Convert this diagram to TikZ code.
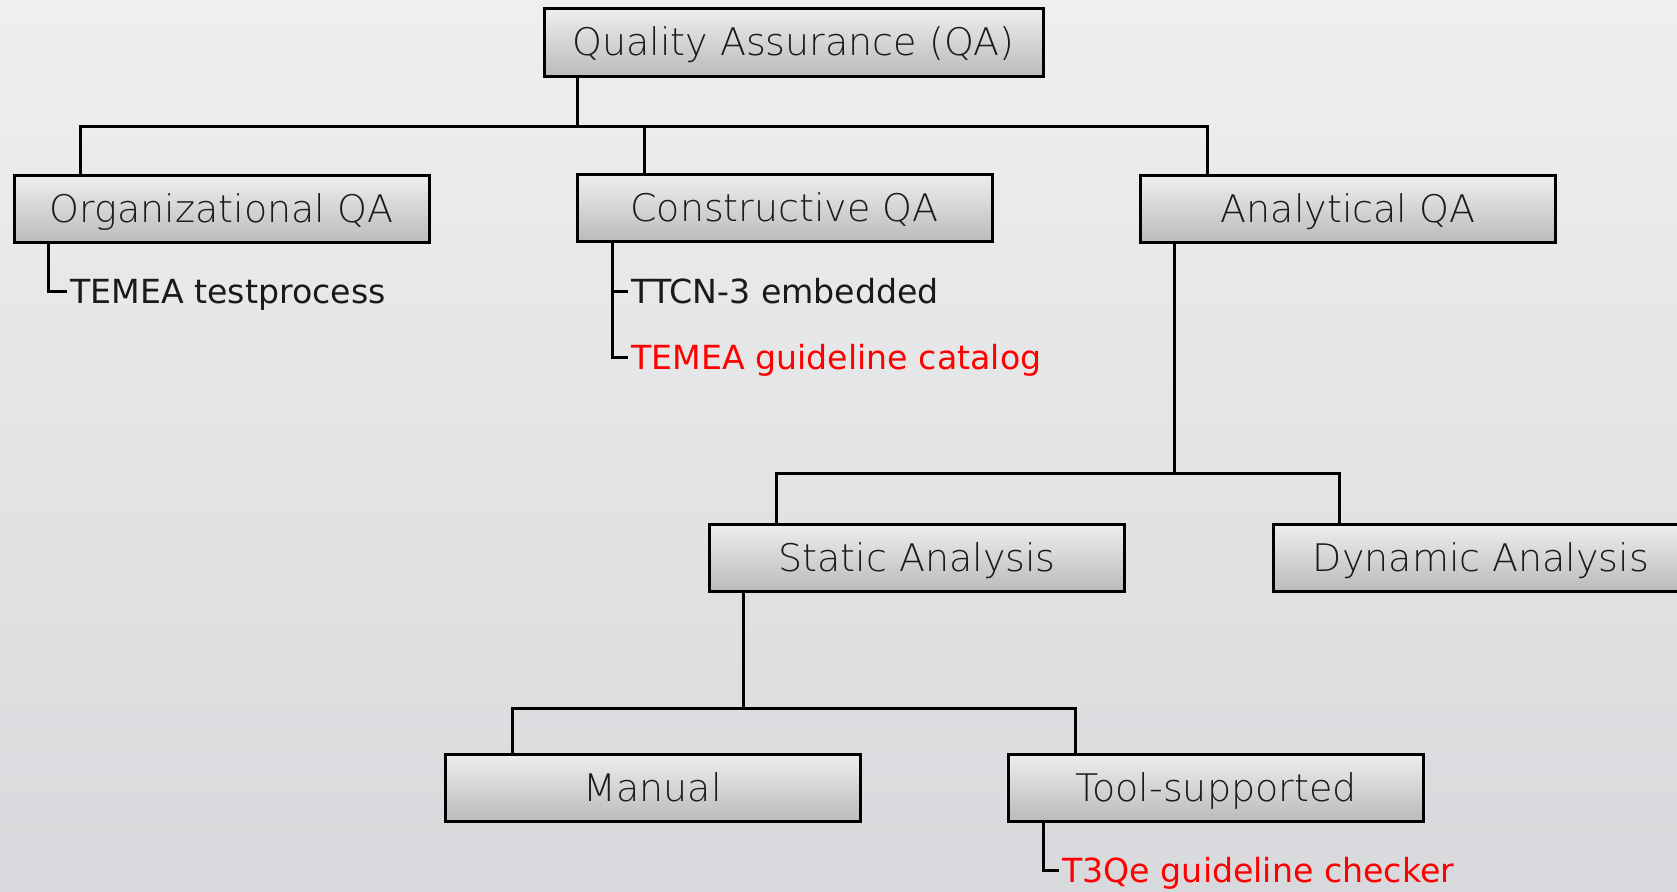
\documentclass[tikz,border=0pt]{standalone}
\usepackage{fontspec}
\setmainfont{DejaVu Sans}
\newfontfamily\thinfont{DejaVu Sans ExtraLight}
\definecolor{bgtop}{HTML}{EFEFEF}
\definecolor{bgbot}{HTML}{D8D9DC}
\definecolor{boxtop}{HTML}{EEEEEE}
\definecolor{boxbot}{HTML}{BBBBBB}
\definecolor{txt}{HTML}{1A1A1A}
\definecolor{redtxt}{HTML}{FF0000}
\tikzset{
  box/.style={draw=black, line width=1.5pt, top color=boxtop, bottom color=boxbot,
    minimum width=207.5pt, minimum height=33.5pt, inner sep=0pt,
    text height=13.8pt, text depth=0pt,
    font=\thinfont\fontsize{19}{22}\selectfont, text=txt},
  lab/.style={anchor=west, inner sep=0pt, text height=12pt, text depth=0pt,
    font=\fontsize{16.6}{19}\selectfont, text=txt},
  redlab/.style={lab, text=redtxt},
  conn/.style={draw=black, line width=1.5pt},
  tick/.style={conn, shorten >=1.5pt}
}
\begin{document}
\begin{tikzpicture}[x=0.5pt,y=-0.5pt]
\fill[top color=bgtop, bottom color=bgbot] (0,0) rectangle (1677,891);
\useasboundingbox (0,0) rectangle (1677,891);
\clip (0,0) rectangle (1677,891);
% boxes
\node[box, minimum width=249.5pt, minimum height=34pt] (qa) at (793.5,42) {Quality Assurance (QA)};
\node[box] (org) at (221.5,209) {Organizational QA};
\node[box] (con) at (784.5,208) {Constructive QA};
\node[box] (ana) at (1348,209) {Analytical QA};
\node[box] (sta) at (917,557.5) {Static Analysis};
\node[box] (dyn) at (1481,557.5) {Dynamic Analysis};
\node[box] (man) at (652.5,787.5) {Manual};
\node[box] (tool) at (1216,787.5) {Tool-supported};
% labels
\node[lab] (l1) at (70,291) {TEMEA testprocess};
\node[lab] (l2) at (631,291) {TTCN-3 embedded};
\node[redlab] (l3) at (631,357) {TEMEA guideline catalog};
\node[redlab] (l4) at (1062,870) {T3Qe guideline checker};
% junction coordinates
\coordinate (j0) at (577,126);
\coordinate (j1) at (644,126);
\coordinate (b1L) at (80,126);
\coordinate (b1R) at (1207,126);
\coordinate (j2) at (1174,473);
\coordinate (b2L) at (776,473);
\coordinate (b2R) at (1339,473);
\coordinate (j3) at (743,708);
\coordinate (b3L) at (512,708);
\coordinate (b3R) at (1075,708);
\coordinate (l1x) at (48,291);
\coordinate (l2x) at (612,291);
\coordinate (l4x) at (1043,870);
% connectors
\draw[conn] (qa.south -| j0) -- (j0);
\draw[conn] (org.north -| b1L) -- (b1L) -- (b1R) -- (ana.north -| b1R);
\draw[conn] (con.north -| j1) -- (j1);
\draw[conn] (ana.south -| j2) -- (j2);
\draw[conn] (sta.north -| b2L) -- (b2L) -- (b2R) -- (dyn.north -| b2R);
\draw[conn] (sta.south -| j3) -- (j3);
\draw[conn] (man.north -| b3L) -- (b3L) -- (b3R) -- (tool.north -| b3R);
\draw[tick] (org.south -| l1x) |- (l1.west);
\draw[tick] (con.south -| l2x) |- (l3.west);
\draw[tick] (l2x) -- (l2.west);
\draw[tick] (tool.south -| l4x) |- (l4.west);
\end{tikzpicture}
\end{document}
